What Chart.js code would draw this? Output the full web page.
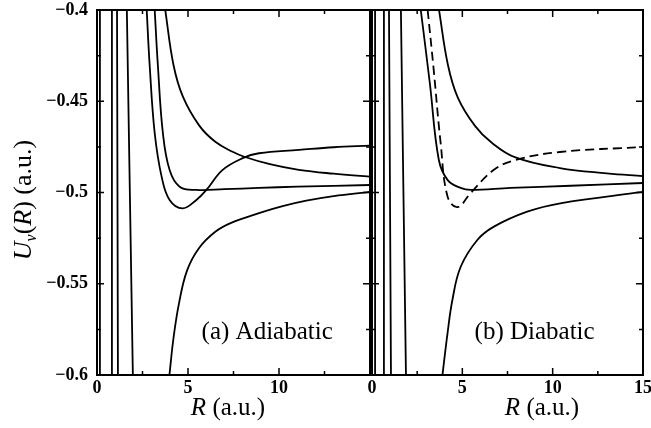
<!DOCTYPE html>
<html>
<head>
<meta charset="utf-8">
<script src="https://cdn.jsdelivr.net/npm/chart.js@4/dist/chart.umd.min.js"></script>
<style>
  html, body { margin: 0; padding: 0; background: #fff; }
  #wrap { position: relative; width: 651px; height: 428px; }
  #wrap canvas { position: absolute; left: 0; top: 0; }
</style>
</head>
<body>
<div id="wrap">
  <canvas id="adiabatic" width="651" height="428"></canvas>
  <canvas id="diabatic" width="651" height="428"></canvas>
</div>
<script>
// axis ticks
const yTicks = [-0.6, -0.55, -0.5, -0.45, -0.4];
const leftXTicks = [0, 5, 10];
const rightXTicks = [0, 5, 10, 15];

// (a) adiabatic potentials U(R), both in a.u.
// steep inner curves: R where they cross U = -0.4 and U = -0.6
const adiaInnerTopR = [0.16, 0.82, 1.10, 1.64];
const adiaInnerBotR = [0.16, 0.82, 1.15, 1.97];

const adiaLowR = [3.98, 4.2, 4.5, 4.95, 5.6, 6.5, 7.4, 8.9, 10.2, 11.5, 13, 15];
const adiaLowU = [-0.6, -0.58, -0.561, -0.5427, -0.5305, -0.5215, -0.5165, -0.5113, -0.5075, -0.5045, -0.502, -0.4997];

const adiaDipR = [2.73, 2.9, 3.17, 3.55, 3.99, 4.7, 5.46, 6.01, 6.89, 8.0, 8.9, 11.1, 13, 15];
const adiaDipU = [-0.4, -0.4312, -0.4674, -0.4913, -0.5041, -0.5087, -0.5041, -0.4986, -0.4877, -0.4812, -0.4785, -0.4767, -0.4752, -0.4743];

const adiaFlatR = [3.17, 3.35, 3.62, 3.99, 4.54, 5.45, 7, 8.9, 11, 15];
const adiaFlatU = [-0.4, -0.4312, -0.4674, -0.4877, -0.4968, -0.4986, -0.4982, -0.4975, -0.4968, -0.4959];

const adiaUpperR = [3.75, 4.2, 4.72, 5.63, 6.5, 7.45, 8.09, 9.5, 11.09, 13, 15];
const adiaUpperU = [-0.4, -0.43, -0.4475, -0.4635, -0.4722, -0.4777, -0.4804, -0.4845, -0.4876, -0.4897, -0.4913];

// (b) diabatic potentials
const diaInnerTopR = [0.17, 0.66, 0.94, 1.6];
const diaInnerBotR = [0.17, 0.66, 1.05, 1.88];

const diaLowR = [3.9, 4.18, 4.45, 4.91, 5.83, 6.75, 8.59, 10.42, 15];
const diaLowU = [-0.6, -0.5772, -0.5589, -0.5407, -0.526, -0.5187, -0.5105, -0.5059, -0.4997];

const diaDashR = [3.08, 3.4, 3.8, 4.19, 4.74, 5.46, 6.73, 7.94, 10.4, 15];
const diaDashU = [-0.4, -0.4312, -0.4729, -0.5025, -0.508, -0.5003, -0.4877, -0.4822, -0.4778, -0.4751];

const diaFlatR = [2.7, 3.2, 3.7, 4.19, 4.9, 5.46, 7.67, 11, 15];
const diaFlatU = [-0.4, -0.44, -0.4822, -0.4932, -0.4975, -0.4986, -0.4975, -0.4963, -0.4948];

const diaUpperR = [3.71, 4.2, 4.75, 5.7, 6.6, 7.94, 10.4, 13, 15];
const diaUpperU = [-0.4, -0.43, -0.448, -0.4635, -0.4725, -0.4808, -0.4866, -0.4895, -0.491];

const serif = "'Liberation Serif', 'Times New Roman', serif";

function pts(rs, us) {
  return rs.map((r, i) => ({ x: r, y: us[i] }));
}

function curve(rs, us, dash) {
  return {
    data: pts(rs, us),
    borderColor: '#000',
    borderWidth: 1.8,
    borderDash: dash || [],
    pointRadius: 0,
    fill: false,
    tension: 0.4
  };
}

function innerLines(topR, botR) {
  return topR.map((r, i) => curve([r, botR[i]].sort((a, b) => a - b),
    r <= botR[i] ? [-0.4, -0.6] : [-0.6, -0.4]));
}

function fmt(v) {
  return (v < 0 ? '\u2212' : '') + String(Math.abs(v));
}

// draws a run of text pieces with different fonts, centred on cx
function drawRuns(ctx, runs, cx, baseY) {
  let w = 0;
  runs.forEach(r => { ctx.font = r.font; r.w = ctx.measureText(r.text).width; w += r.w; });
  let x = cx - w / 2;
  ctx.textAlign = 'left';
  ctx.textBaseline = 'alphabetic';
  runs.forEach(r => { ctx.font = r.font; ctx.fillText(r.text, x, baseY + (r.dy || 0)); x += r.w; });
}

const framePlugin = {
  id: 'frame',
  afterDatasetsDraw(chart, args, opts) {
    const { ctx, chartArea: a, scales: { x, y } } = chart;
    ctx.save();
    ctx.strokeStyle = '#000';
    ctx.fillStyle = '#000';
    ctx.lineWidth = 2;
    ctx.strokeRect(a.left, a.top, a.right - a.left, a.bottom - a.top);

    // inward tick marks on all four sides
    ctx.lineWidth = 1.5;
    ctx.beginPath();
    for (let i = 0; i <= 6; i++) {
      const px = x.getPixelForValue(x.min + i * 2.5);
      const len = i % 2 === 0 ? 7 : 4;
      ctx.moveTo(px, a.top); ctx.lineTo(px, a.top + len);
      ctx.moveTo(px, a.bottom); ctx.lineTo(px, a.bottom - len);
    }
    for (let i = 0; i <= 8; i++) {
      const py = y.getPixelForValue(y.min + i * 0.025);
      const len = i % 2 === 0 ? 7 : 4;
      ctx.moveTo(a.left, py); ctx.lineTo(a.left + len, py);
      ctx.moveTo(a.right, py); ctx.lineTo(a.right - len, py);
    }
    ctx.stroke();

    const big = "25px " + serif;
    const bigIt = "italic 25px " + serif;
    drawRuns(ctx, [{ text: 'R', font: bigIt }, { text: ' (a.u.)', font: big }], opts.xTitleX, 415);

    if (opts.yTitle) {
      ctx.save();
      ctx.translate(31, 200);
      ctx.rotate(-Math.PI / 2);
      drawRuns(ctx, [
        { text: 'U', font: "italic 26px " + serif },
        { text: 'v', font: "italic 16px " + serif, dy: 5 },
        { text: '(', font: "26px " + serif },
        { text: 'R', font: "italic 26px " + serif },
        { text: ') (a.u.)', font: "26px " + serif }
      ], 0, 0);
      ctx.restore();
    }

    drawRuns(ctx, [{ text: opts.note, font: big }],
      x.getPixelForValue(opts.noteAt[0]), y.getPixelForValue(opts.noteAt[1]));
    ctx.restore();
  }
};

function makeChart(id, datasets, xTicks, pad, showY, frameOpts) {
  return new Chart(document.getElementById(id), {
    type: 'line',
    data: { datasets },
    plugins: [framePlugin],
    options: {
      responsive: false,
      animation: false,
      devicePixelRatio: 1,
      layout: { padding: pad },
      plugins: {
        legend: { display: false },
        tooltip: { enabled: false },
        frame: frameOpts
      },
      scales: {
        x: {
          type: 'linear',
          min: 0,
          max: 15,
          grid: { display: false, drawTicks: false },
          border: { display: false },
          afterBuildTicks: s => { s.ticks = xTicks.map(v => ({ value: v })); },
          afterFit: s => { s.height = 53; s.paddingLeft = 0; s.paddingRight = 0; },
          ticks: {
            padding: 3,
            color: '#000',
            font: { family: serif, size: 18, weight: 'bold' },
            callback: v => fmt(v)
          }
        },
        y: {
          type: 'linear',
          display: showY,
          min: -0.6,
          max: -0.4,
          grid: { display: false, drawTicks: false },
          border: { display: false },
          afterBuildTicks: s => { s.ticks = yTicks.map(v => ({ value: v })); },
          afterFit: s => { s.width = showY ? 97 : 0; s.paddingTop = 0; s.paddingBottom = 0; },
          ticks: {
            padding: 9,
            color: '#000',
            font: { family: serif, size: 18, weight: 'bold' },
            callback: v => fmt(v)
          }
        }
      }
    }
  });
}

makeChart('adiabatic', [
  ...innerLines(adiaInnerTopR, adiaInnerBotR),
  curve(adiaLowR, adiaLowU),
  curve(adiaDipR, adiaDipU),
  curve(adiaFlatR, adiaFlatU),
  curve(adiaUpperR, adiaUpperU)
], leftXTicks, { left: 0, top: 10, right: 281, bottom: 0 }, true,
  { xTitleX: 228, yTitle: true, note: '(a) Adiabatic', noteAt: [9.35, -0.58] });

makeChart('diabatic', [
  ...innerLines(diaInnerTopR, diaInnerBotR),
  curve(diaLowR, diaLowU),
  curve(diaDashR, diaDashU, [9, 5]),
  curve(diaFlatR, diaFlatU),
  curve(diaUpperR, diaUpperU)
], rightXTicks, { left: 372, top: 10, right: 8, bottom: 0 }, false,
  { xTitleX: 542, yTitle: false, note: '(b) Diabatic', noteAt: [9.0, -0.58] });
</script>
</body>
</html>
